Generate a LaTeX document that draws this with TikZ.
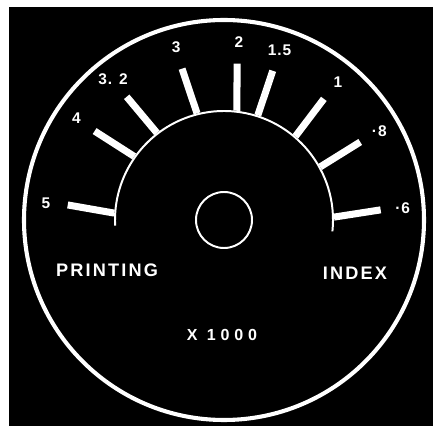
\documentclass[tikz,border=0pt]{standalone}
\usepackage{fontspec}
\usetikzlibrary{positioning}
\newfontfamily\dialfont[LetterSpace=12]{Liberation Sans}
\newfontfamily\valfont[LetterSpace=6]{Liberation Sans}
\newfontfamily\widefont[LetterSpace=30]{Liberation Sans}
\tikzstyle{rim} = [draw=white, line width=2.9pt]
\tikzstyle{scalearc} = [draw=white, line width=1.4pt]
\tikzstyle{tickbar} = [draw=white, line width=5pt]
\tikzstyle{hubring} = [circle, draw=white, line width=1.4pt, minimum size=1.4cm, inner sep=0pt]
\tikzstyle{numlabel} = [text=white, font=\valfont\bfseries\fontsize{11}{13}\selectfont, inner sep=0pt]
\tikzstyle{word} = [text=white, font=\dialfont\bfseries\fontsize{12.9}{15}\selectfont, inner sep=0pt]

\begin{document}
\begin{tikzpicture}[x=0.025cm, y=0.025cm]
    \useasboundingbox (-224,-206) rectangle (209,220);
    % Background
    \fill[black] (-215,-206) rectangle (209,213);

    % Dial rim and scale arc
    \draw[rim] (0,0) circle[radius=200];
    \draw[scalearc] (-6:109) arc[start angle=-6, end angle=183, radius=109];
    \node[hubring] (hub) at (0,0) {};

    % Ticks and values
    \foreach \ai/\ao/\txt [count=\i] in {176.4/174.5/5, 144.7/145.5/4, 127.6/128.3/{3. 2}, 104.2/105.5/3, 83.3/85.2/2, 72.1/71.9/{1.5}, 49.5/50.5/1, 28.9/29.8/{·8}, 1.5/3.7/{·6}} {
        \draw[tickbar] (\ai:110) -- (\ao:157);
        \node[numlabel] (val\i) at (\ao:179) {\txt};
    }

    % Captions
    \node[word] (printing) at (-117,-50) {PRINTING};
    \node[word] (index) at (131,-53) {INDEX};
    \node[text=white, font=\widefont\bfseries\fontsize{11.4}{14}\selectfont, inner sep=0pt] (factor) at (-2,-115) {X 1000};
\end{tikzpicture}
\end{document}
